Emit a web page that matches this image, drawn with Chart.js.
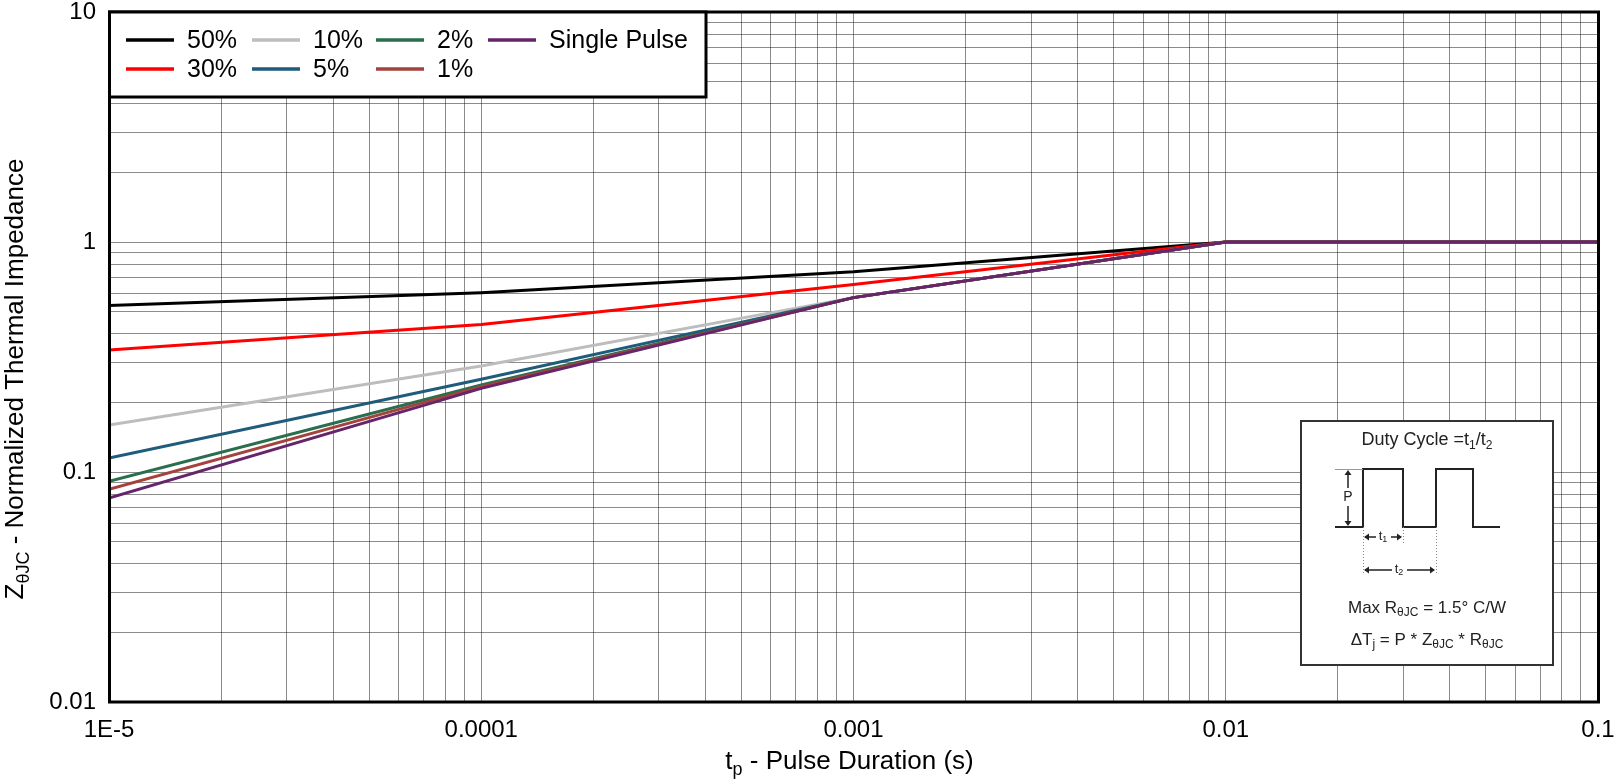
<!DOCTYPE html>
<html><head><meta charset="utf-8">
<script src="https://cdn.jsdelivr.net/npm/chart.js@4.4.1/dist/chart.umd.min.js"></script>
<style>html,body{margin:0;padding:0;background:#fff;overflow:hidden}#wrap{width:1615px;height:781px;position:relative}canvas{display:block}</style>
</head><body><div id="wrap"><canvas id="c" width="1615" height="781"></canvas></div>
<script>
// ---- data ----
const pulseDurations = [1e-5, 1e-4, 1e-3, 1e-2, 1e-1];
const seriesLabels = ['50%', '30%', '10%', '5%', '2%', '1%', 'Single Pulse'];
const duty50 = [0.529, 0.602, 0.743, 1.0, 1.0];
const duty30 = [0.339, 0.438, 0.654, 1.0, 1.0];
const duty10 = [0.160, 0.289, 0.573, 1.0, 1.0];
const duty5 = [0.115, 0.253, 0.573, 1.0, 1.0];
const duty2 = [0.091, 0.239, 0.573, 1.0, 1.0];
const duty1 = [0.084, 0.235, 0.573, 1.0, 1.0];
const singlePulse = [0.077, 0.231, 0.573, 1.0, 1.0];
const xTickLabels = ['1E-5', '0.0001', '0.001', '0.01', '0.1'];
const yTickLabels = ['0.01', '0.1', '1', '10'];
const seriesColors = ['#000000', '#ff0000', '#bdbdbd', '#1f5b7a', '#2a6e4e', '#a4423c', '#66256a'];
const seriesValues = [duty50, duty30, duty10, duty5, duty2, duty1, singlePulse];

const FONT = "'Liberation Sans', Arial, Helvetica, sans-serif";
Chart.defaults.font.family = FONT;

function decadeGrid(scale) {
  const lo = Math.round(Math.log10(scale.min)), hi = Math.round(Math.log10(scale.max));
  const t = [];
  for (let e = lo; e < hi; e++) for (let s = 1; s <= 9; s++) t.push({ value: s * Math.pow(10, e) });
  t.push({ value: Math.pow(10, hi) });
  scale.ticks = t;
}
function labeller(labels) {
  return (v) => { const l = labels.find(s => Math.abs(Number(s) / v - 1) < 1e-6); return l || ''; };
}

function drawRich(ctx, parts, x, y, align, size, color, subRatio) {
  const subSize = Math.round(size * (subRatio || 0.68));
  let total = 0;
  parts.forEach(p => { ctx.font = (p.sub ? subSize : size) + 'px ' + FONT; p.w = ctx.measureText(p.t).width; total += p.w; });
  let cx = align === 'center' ? x - total / 2 : (align === 'right' ? x - total : x);
  ctx.fillStyle = color; ctx.textAlign = 'left'; ctx.textBaseline = 'middle';
  parts.forEach(p => {
    ctx.font = (p.sub ? subSize : size) + 'px ' + FONT;
    ctx.fillText(p.t, cx, y + (p.sub ? size * 0.3 : 0));
    cx += p.w;
  });
  return total;
}

const framePlugin = {
  id: 'frame',
  afterDatasetsDraw(chart) {
    const { ctx, chartArea: a } = chart;
    ctx.save(); ctx.strokeStyle = '#000'; ctx.lineWidth = 3;
    ctx.strokeRect(a.left + 0.5, a.top, a.right - a.left, a.bottom - a.top);
    ctx.restore();
  }
};

const titlesPlugin = {
  id: 'titles',
  afterDraw(chart) {
    const { ctx, chartArea: a } = chart;
    ctx.save();
    drawRich(ctx, [{ t: 't' }, { t: 'p', sub: true }, { t: ' - Pulse Duration (s)' }], (a.left + a.right) / 2 - 4, 762, 'center', 26, '#000');
    ctx.translate(16, 379);
    ctx.rotate(-Math.PI / 2);
    drawRich(ctx, [{ t: 'Z' }, { t: 'θJC', sub: true }, { t: ' - Normalized Thermal Impedance' }], 0, 0, 'center', 26, '#000');
    ctx.restore();
  }
};

const legendPlugin = {
  id: 'boxLegend',
  afterDraw(chart) {
    const { ctx, chartArea: a } = chart;
    const L = a.left - 1, T = a.top, W = 598, H = 85;
    ctx.save();
    ctx.fillStyle = '#fff'; ctx.fillRect(L, T, W, H);
    ctx.strokeStyle = '#000'; ctx.lineWidth = 3; ctx.strokeRect(L + 1.5, T, W - 1.5, H);
    const colX = [18, 144, 268, 380];
    const rowY = [28, 57];
    chart.data.datasets.forEach((ds, i) => {
      const c = Math.floor(i / 2), r = i % 2;
      const x0 = L + colX[c], y0 = T + rowY[r];
      ctx.strokeStyle = ds.borderColor; ctx.lineWidth = 3.5; ctx.lineCap = 'butt';
      ctx.beginPath(); ctx.moveTo(x0, y0); ctx.lineTo(x0 + 48, y0); ctx.stroke();
      ctx.fillStyle = '#000'; ctx.font = '25px ' + FONT; ctx.textBaseline = 'middle'; ctx.textAlign = 'left';
      ctx.fillText(ds.label, x0 + 61, y0 + 1);
    });
    ctx.restore();
  }
};

function arrowHead(ctx, x, y, dir) {
  const s = 5, w = 3.5;
  ctx.beginPath();
  if (dir === 'l') { ctx.moveTo(x, y); ctx.lineTo(x + s, y - w); ctx.lineTo(x + s, y + w); }
  if (dir === 'r') { ctx.moveTo(x, y); ctx.lineTo(x - s, y - w); ctx.lineTo(x - s, y + w); }
  if (dir === 'u') { ctx.moveTo(x, y); ctx.lineTo(x - w, y + s); ctx.lineTo(x + w, y + s); }
  if (dir === 'd') { ctx.moveTo(x, y); ctx.lineTo(x - w, y - s); ctx.lineTo(x + w, y - s); }
  ctx.closePath(); ctx.fill();
}

const insetPlugin = {
  id: 'inset',
  afterDraw(chart) {
    const { ctx, chartArea: a } = chart;
    const R = a.right - 45, B = a.bottom - 37, W = 252, H = 244;
    const L = R - W, T = B - H;
    ctx.save();
    ctx.fillStyle = '#fff'; ctx.fillRect(L, T, W, H);
    ctx.strokeStyle = '#333'; ctx.lineWidth = 2; ctx.strokeRect(L, T, W, H);
    drawRich(ctx, [{ t: 'Duty Cycle =t' }, { t: '1', sub: true }, { t: '/t' }, { t: '2', sub: true }], L + 126, T + 19, 'center', 18, '#222');
    const yb = T + 106, yt = T + 48;
    ctx.strokeStyle = '#222'; ctx.lineWidth = 2;
    ctx.beginPath();
    ctx.moveTo(L + 34, yb); ctx.lineTo(L + 62, yb); ctx.lineTo(L + 62, yt); ctx.lineTo(L + 102, yt);
    ctx.lineTo(L + 102, yb); ctx.lineTo(L + 135, yb); ctx.lineTo(L + 135, yt); ctx.lineTo(L + 172, yt);
    ctx.lineTo(L + 172, yb); ctx.lineTo(L + 199, yb);
    ctx.stroke();
    ctx.strokeStyle = '#999'; ctx.lineWidth = 1;
    ctx.beginPath(); ctx.moveTo(L + 34, yt + 0.5); ctx.lineTo(L + 62, yt + 0.5); ctx.stroke();
    ctx.setLineDash([1, 2]); ctx.strokeStyle = '#888';
    ctx.beginPath();
    ctx.moveTo(L + 62.5, yb); ctx.lineTo(L + 62.5, T + 152);
    ctx.moveTo(L + 102.5, yb); ctx.lineTo(L + 102.5, T + 122);
    ctx.moveTo(L + 135.5, yb); ctx.lineTo(L + 135.5, T + 152);
    ctx.stroke(); ctx.setLineDash([]);
    ctx.strokeStyle = '#222'; ctx.fillStyle = '#222'; ctx.lineWidth = 1.5;
    const px = L + 47;
    ctx.beginPath(); ctx.moveTo(px, yt + 3); ctx.lineTo(px, T + 67); ctx.moveTo(px, T + 85); ctx.lineTo(px, yb - 3); ctx.stroke();
    arrowHead(ctx, px, yt + 1, 'u'); arrowHead(ctx, px, yb - 1, 'd');
    drawRich(ctx, [{ t: 'P' }], px, T + 76, 'center', 14, '#222');
    const y1 = T + 116;
    ctx.strokeStyle = '#222'; ctx.fillStyle = '#222';
    ctx.beginPath(); ctx.moveTo(L + 64, y1); ctx.lineTo(L + 75, y1); ctx.moveTo(L + 90, y1); ctx.lineTo(L + 100, y1); ctx.stroke();
    arrowHead(ctx, L + 63, y1, 'l'); arrowHead(ctx, L + 101, y1, 'r');
    drawRich(ctx, [{ t: 't' }, { t: '1', sub: true }], L + 82, y1 - 1, 'center', 13, '#222');
    const y2 = T + 149;
    ctx.strokeStyle = '#222'; ctx.fillStyle = '#222';
    ctx.beginPath(); ctx.moveTo(L + 64, y2); ctx.lineTo(L + 91, y2); ctx.moveTo(L + 106, y2); ctx.lineTo(L + 133, y2); ctx.stroke();
    arrowHead(ctx, L + 63, y2, 'l'); arrowHead(ctx, L + 134, y2, 'r');
    drawRich(ctx, [{ t: 't' }, { t: '2', sub: true }], L + 98, y2 - 1, 'center', 13, '#222');
    drawRich(ctx, [{ t: 'Max R' }, { t: 'θJC', sub: true }, { t: ' = 1.5° C/W' }], L + 126, T + 187, 'center', 17, '#222');
    drawRich(ctx, [{ t: 'ΔT' }, { t: 'j', sub: true }, { t: ' = P * Z' }, { t: 'θJC', sub: true }, { t: ' * R' }, { t: 'θJC', sub: true }], L + 126, T + 219, 'center', 17, '#222');
    ctx.restore();
  }
};

const datasets = seriesValues.map((vals, i) => ({
  label: seriesLabels[i],
  data: pulseDurations.map((x, j) => ({ x: x, y: vals[j] })),
  borderColor: seriesColors[i],
  backgroundColor: seriesColors[i],
  borderWidth: 3,
  pointRadius: 0,
  tension: 0,
  fill: false,
  order: seriesLabels.length - 1 - i
}));

const gridColor = 'rgba(0,0,0,0.45)';
new Chart(document.getElementById('c'), {
  type: 'line',
  data: { datasets },
  options: {
    responsive: false,
    animation: false,
    devicePixelRatio: 1,
    layout: { padding: { top: 12, right: 17, bottom: 0, left: 0 } },
    plugins: { legend: { display: false }, tooltip: { enabled: false }, title: { display: false } },
    scales: {
      x: {
        type: 'logarithmic', min: 1e-5, max: 0.1,
        afterBuildTicks: decadeGrid,
        afterFit(s) { s.height = 79; s.paddingLeft = 0; s.paddingRight = 0; },
        ticks: { autoSkip: false, maxRotation: 0, minRotation: 0, padding: 14, color: '#000', font: { size: 24 }, callback: labeller(xTickLabels) },
        grid: { color: gridColor, lineWidth: 1, drawTicks: false },
        border: { display: false }
      },
      y: {
        type: 'logarithmic', min: 0.01, max: 10,
        afterBuildTicks: decadeGrid,
        afterFit(s) { s.width = 109; s.paddingTop = 0; s.paddingBottom = 0; },
        ticks: { autoSkip: false, padding: 13, color: '#000', font: { size: 24 }, callback: labeller(yTickLabels) },
        grid: { color: gridColor, lineWidth: 1, drawTicks: false },
        border: { display: false }
      }
    }
  },
  plugins: [framePlugin, titlesPlugin, legendPlugin, insetPlugin]
});
</script>
</body></html>
